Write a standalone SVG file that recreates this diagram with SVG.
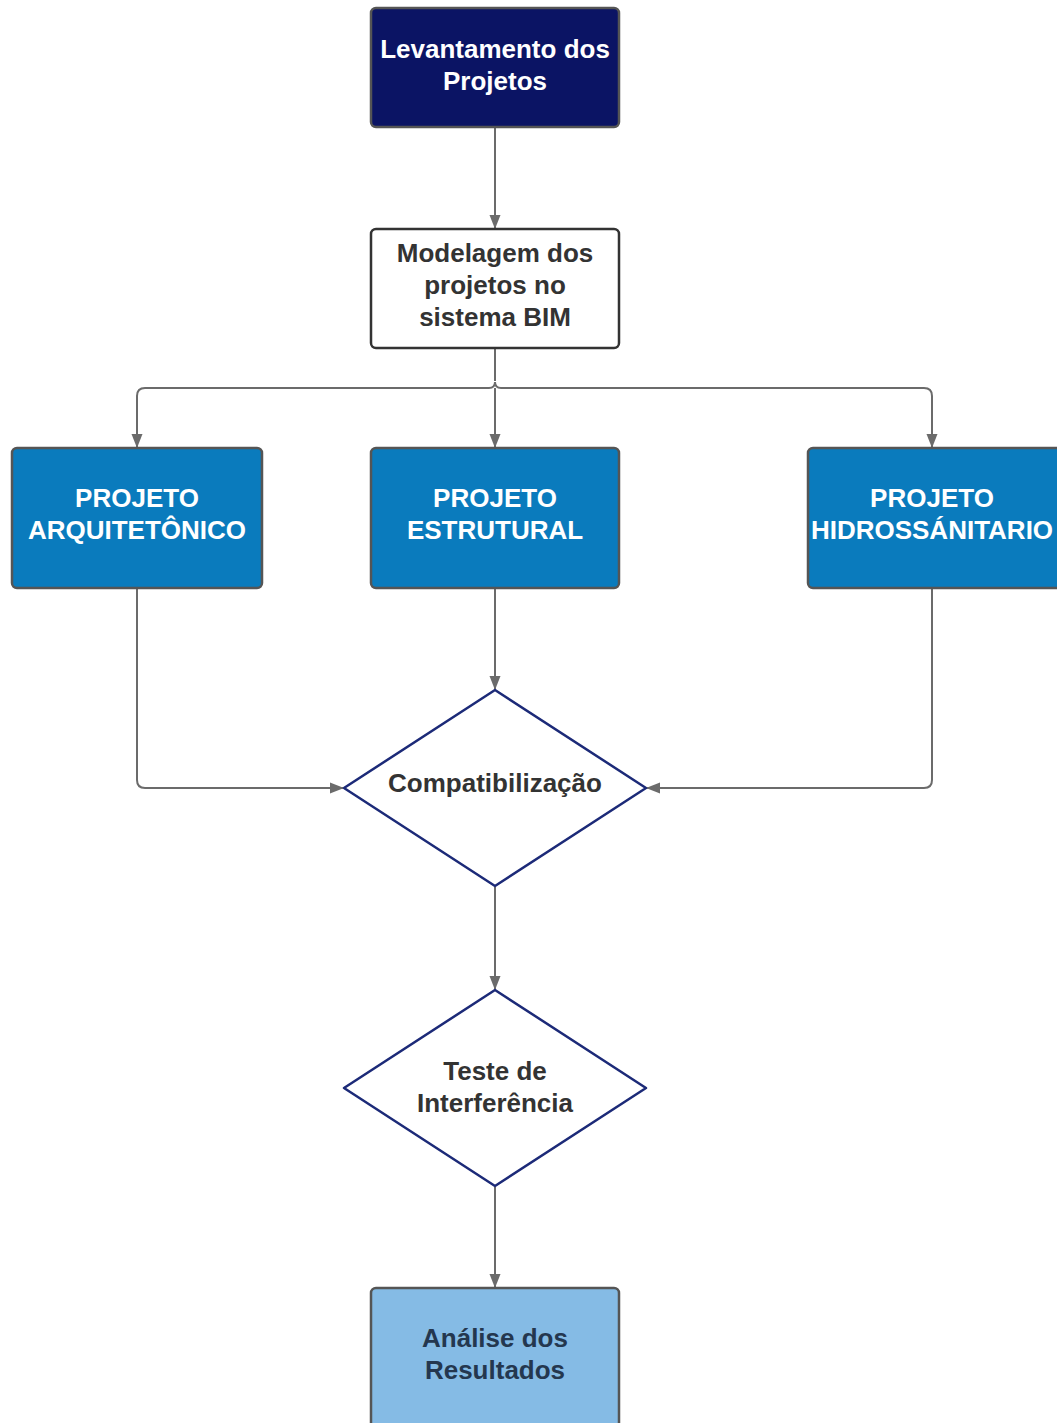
<svg xmlns="http://www.w3.org/2000/svg" width="1057" height="1423" viewBox="0 0 1057 1423">
  <style>
    .lbl { font-family: "Liberation Sans", Arial, sans-serif; font-weight: bold; font-size: 26px; text-anchor: middle; }
    .light { fill: #ffffff; }
    .dark { fill: #333333; }
    .conn { fill: none; stroke: #6b6b6b; stroke-width: 2; }
    .proj { fill: #0a7bbd; stroke: #555555; stroke-width: 2.5; }
    .dia { fill: #ffffff; stroke: #1c2a78; stroke-width: 2.5; stroke-linejoin: round; }
  </style>
  <defs>
    <marker id="arrow" viewBox="0 0 14 14" refX="13" refY="7" markerWidth="14" markerHeight="14" markerUnits="userSpaceOnUse" orient="auto">
      <path d="M0,1.5 L14,7 L0,12.5 Z" fill="#6b6b6b"/>
    </marker>
  </defs>
  <rect width="1057" height="1423" fill="#ffffff"/>

  <g id="connectors">
    <path class="conn" d="M495,128 V228" marker-end="url(#arrow)"/>
    <path class="conn" d="M495,349 V381 M495,388 V447" marker-end="url(#arrow)"/>
    <!-- branch bar with a small hop at the centre -->
    <path class="conn" d="M137,447 V396 Q137,388 145,388 H489 Q495,388 495,382 Q495,388 501,388 H924 Q932,388 932,396 V447"/>
    <path class="conn" d="M137,396 V447" marker-end="url(#arrow)"/>
    <path class="conn" d="M932,396 V447" marker-end="url(#arrow)"/>
    <path class="conn" d="M495,589 V689" marker-end="url(#arrow)"/>
    <path class="conn" d="M137,589 V780 Q137,788 145,788 H343" marker-end="url(#arrow)"/>
    <path class="conn" d="M932,589 V780 Q932,788 924,788 H647" marker-end="url(#arrow)"/>
    <path class="conn" d="M495,887 V989" marker-end="url(#arrow)"/>
    <path class="conn" d="M495,1187 V1287" marker-end="url(#arrow)"/>
  </g>

  <g id="levantamento">
    <rect x="371" y="8" width="248" height="119" rx="5" fill="#0b1464" stroke="#555555" stroke-width="2.5"/>
    <text class="lbl light" x="495" y="58">Levantamento dos</text>
    <text class="lbl light" x="495" y="90">Projetos</text>
  </g>

  <g id="modelagem">
    <rect x="371" y="229" width="248" height="119" rx="5" fill="#ffffff" stroke="#333333" stroke-width="2.5"/>
    <text class="lbl dark" x="495" y="262">Modelagem dos</text>
    <text class="lbl dark" x="495" y="294">projetos no</text>
    <text class="lbl dark" x="495" y="326">sistema BIM</text>
  </g>

  <g id="arquitetonico">
    <rect class="proj" x="12" y="448" width="250" height="140" rx="5"/>
    <text class="lbl light" x="137" y="507">PROJETO</text>
    <text class="lbl light" x="137" y="539">ARQUITETÔNICO</text>
  </g>

  <g id="estrutural">
    <rect class="proj" x="371" y="448" width="248" height="140" rx="5"/>
    <text class="lbl light" x="495" y="507">PROJETO</text>
    <text class="lbl light" x="495" y="539">ESTRUTURAL</text>
  </g>

  <g id="hidrossanitario">
    <rect class="proj" x="808" y="448" width="260" height="140" rx="5"/>
    <text class="lbl light" x="932" y="507">PROJETO</text>
    <text class="lbl light" x="932" y="539">HIDROSSÁNITARIO</text>
  </g>

  <g id="compatibilizacao">
    <path class="dia" d="M495,690 L646,788 L495,886 L344,788 Z"/>
    <text class="lbl dark" x="495" y="792">Compatibilização</text>
  </g>

  <g id="teste">
    <path class="dia" d="M495,990 L646,1088 L495,1186 L344,1088 Z"/>
    <text class="lbl dark" x="495" y="1080">Teste de</text>
    <text class="lbl dark" x="495" y="1112">Interferência</text>
  </g>

  <g id="analise">
    <rect x="371" y="1288" width="248" height="150" rx="5" fill="#85bbe5" stroke="#555555" stroke-width="2.5"/>
    <text class="lbl" x="495" y="1347" fill="#24374f">Análise dos</text>
    <text class="lbl" x="495" y="1379" fill="#24374f">Resultados</text>
  </g>
</svg>
